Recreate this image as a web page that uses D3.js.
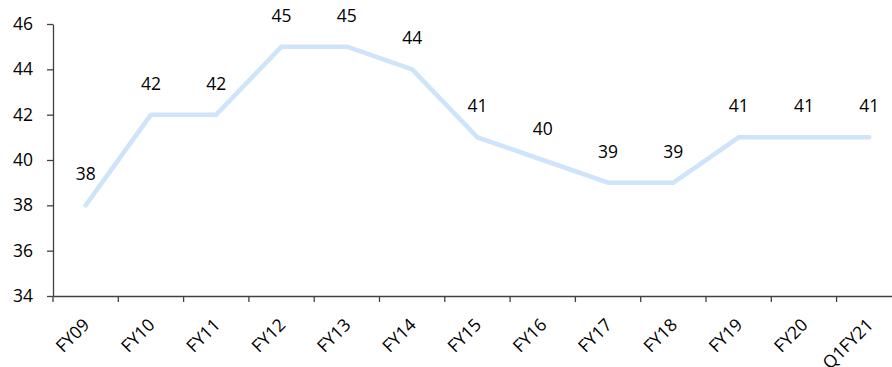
<!DOCTYPE html>
<html><head><meta charset="utf-8">
<script src="https://cdn.jsdelivr.net/npm/d3@7"></script>
<style>body{margin:0;background:#fff}svg{display:block}text{font-family:"Open Sans",sans-serif}</style>
</head><body><svg id="c" width="892" height="367"></svg>
<script>
const categories = ["FY09","FY10","FY11","FY12","FY13","FY14","FY15","FY16","FY17","FY18","FY19","FY20","Q1FY21"];
const values = [38,42,42,45,45,44,41,40,39,39,41,41,41];
const yTicks = [34,36,38,40,42,44,46];

(function(){
const svg = d3.select("#c");
const mLeft = 53, mTop = 24, mBottom = 296;
const x = d3.scaleBand().domain(categories).range([mLeft, mLeft + 13*65.3]);
const y = d3.scaleLinear().domain([34,46]).range([mBottom, mTop]);

const ya = svg.append("g").attr("transform",`translate(${mLeft},0)`)
  .call(d3.axisLeft(y).tickValues(yTicks).tickSize(6).tickPadding(14).tickSizeOuter(0));
ya.selectAll("text").style("font-size","17.5px").attr("fill","#000");
ya.selectAll("line,path").attr("stroke","#404040").attr("stroke-width",1.3);

const xa = svg.append("g").attr("transform",`translate(0,${mBottom})`)
  .call(d3.axisBottom(x).tickSize(0).tickSizeOuter(0));
xa.select("path").attr("stroke","#404040").attr("stroke-width",1.3);
xa.selectAll(".tick line").remove();
xa.selectAll(".tick text").remove();
const bounds = categories.map(c => x(c));
svg.append("g").selectAll("line").data(bounds).join("line")
  .attr("x1",d=>d).attr("x2",d=>d).attr("y1",mBottom).attr("y2",mBottom+6)
  .attr("stroke","#404040").attr("stroke-width",1.3);
svg.append("g").selectAll("text").data(categories).join("text")
  .attr("transform",d=>`translate(${x(d)+x.bandwidth()/2+5},${mBottom+30}) rotate(-45)`)
  .attr("text-anchor","end")
  .style("font-size","17.5px").attr("fill","#000").text(d=>d);

const line = d3.line().x((d,i)=>x(categories[i])+x.bandwidth()/2).y(d=>y(d));
svg.append("path").datum(values).attr("d",line).attr("fill","none")
  .attr("stroke","#cde4fa").attr("stroke-width",4.5).attr("stroke-linejoin","round").attr("stroke-linecap","round");

svg.append("g").selectAll("text").data(values).join("text")
  .attr("x",(d,i)=>x(categories[i])+x.bandwidth()/2)
  .attr("y",d=>y(d)-25)
  .attr("text-anchor","middle").style("font-size","17.5px").attr("fill","#000").text(d=>d);
})();
</script></body></html>
